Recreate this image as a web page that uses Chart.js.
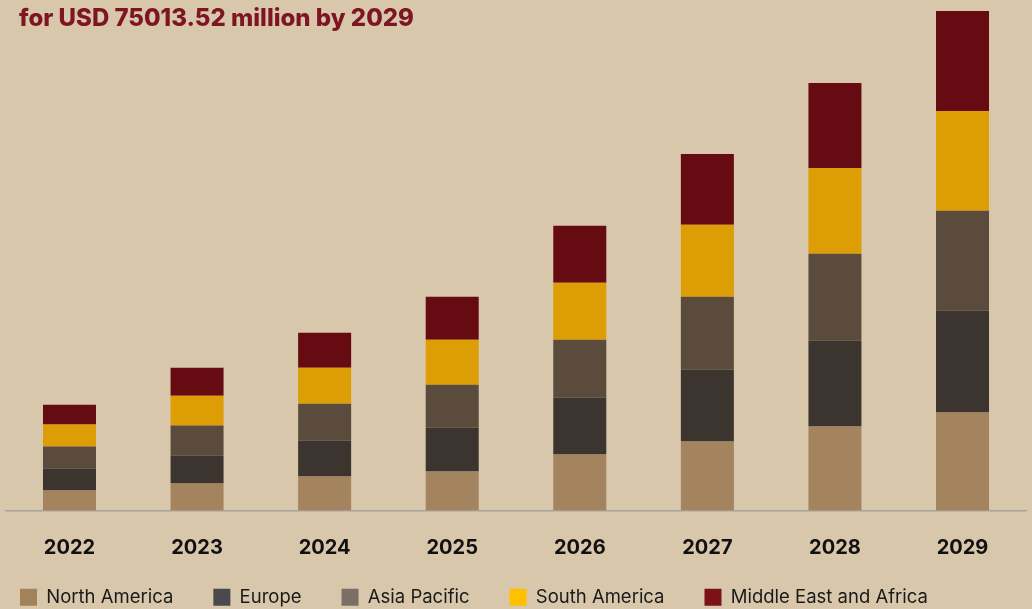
<!DOCTYPE html>
<html>
<head>
<meta charset="utf-8">
<script src="https://cdn.jsdelivr.net/npm/chart.js@4"></script>
<style>
  html, body { margin: 0; padding: 0; width: 1032px; height: 609px; overflow: hidden; }
  body { background: #d9c7ac; position: relative; }
  #title {
    position: absolute; left: 19px; top: 3px; z-index: 2;
    font-family: Inter, "Noto Sans", sans-serif; font-weight: 800; font-size: 24px;
    line-height: 30px; color: #7d1522; white-space: nowrap;
  }
  #wrap { position: absolute; left: -20px; top: 0; width: 1052px; height: 617px; }
</style>
</head>
<body>
<div id="title">for USD 75013.52 million by 2029</div>
<div id="wrap"><canvas id="marketChart"></canvas></div>
<script>
// --- Data (USD million) ---
const years = ["2022", "2023", "2024", "2025", "2026", "2027", "2028", "2029"];
const northAmerica = [3000, 4050, 5100, 5850, 8400, 10350, 12600, 14700];
const europe = [3300, 4200, 5400, 6600, 8550, 10800, 12900, 15300];
const asiaPacific = [3300, 4500, 5550, 6450, 8700, 10950, 13050, 15000];
const southAmerica = [3300, 4500, 5400, 6750, 8550, 10800, 12900, 15000];
const middleEastAfrica = [3000, 4200, 5250, 6450, 8550, 10650, 12750, 15013.52];
const regionNames = ["North America", "Europe", "Asia Pacific", "South America", "Middle East and Africa"];

// bar colours (textured look) and legend swatch colours
const barColors = ["#a3845f", "#3b342f", "#5b4b3d", "#dc9d05", "#660b11"];
const legendColors = ["#a2825a", "#4a4a4e", "#7a6e66", "#ffc000", "#7b1219"];

const seriesValues = [northAmerica, europe, asiaPacific, southAmerica, middleEastAfrica];

// the year labels hang below the short axis band, so don't let them get clipped
const unclipYearLabels = {
  id: "unclipYearLabels",
  afterLayout(chart) {
    chart.scales.x.bottom += 40;
  },
};

const ctx = document.getElementById("marketChart").getContext("2d");
const marketChart = new Chart(ctx, {
  type: "bar",
  data: {
    labels: years,
    datasets: seriesValues.map((vals, i) => ({
      label: regionNames[i],
      data: vals,
      backgroundColor: barColors[i],
      borderWidth: 0,
      barPercentage: 0.4155,
      categoryPercentage: 1.0,
    })),
  },
  options: {
    responsive: true,
    maintainAspectRatio: false,
    animation: false,
    layout: { padding: { left: 0, right: 5.7, top: 11, bottom: 0.5 } },
    scales: {
      x: {
        stacked: true,
        grid: { display: false, drawTicks: false },
        border: { display: true, color: "#a7a29c", width: 1.5 },
        ticks: {
          padding: 25,
          color: "#111111",
          font: { family: "Inter", size: 20, weight: "700" },
        },
        // keep the axis band short so the legend sits low
        afterFit: (scale) => { scale.height = 37.5; },
      },
      y: {
        stacked: true,
        min: 0,
        max: 75013.52,
        grid: { display: false, drawTicks: false },
        border: { display: false },
        ticks: { display: false },
        afterFit: (scale) => { scale.width = 25.7; },
      },
    },
    plugins: {
      tooltip: { enabled: false },
      legend: {
        position: "bottom",
        align: "start",
        labels: {
          boxWidth: 17,
          boxHeight: 17,
          padding: 40,
          color: "#1a1a1a",
          font: { family: "Inter", size: 18.5, weight: "400" },
          generateLabels: (chart) => {
            const items = Chart.defaults.plugins.legend.labels.generateLabels(chart);
            items.forEach((it, i) => {
              it.fillStyle = legendColors[i];
              it.strokeStyle = legendColors[i];
              it.lineWidth = 0;
            });
            return items;
          },
        },
      },
    },
  },
  plugins: [unclipYearLabels],
});
</script>
</body>
</html>
